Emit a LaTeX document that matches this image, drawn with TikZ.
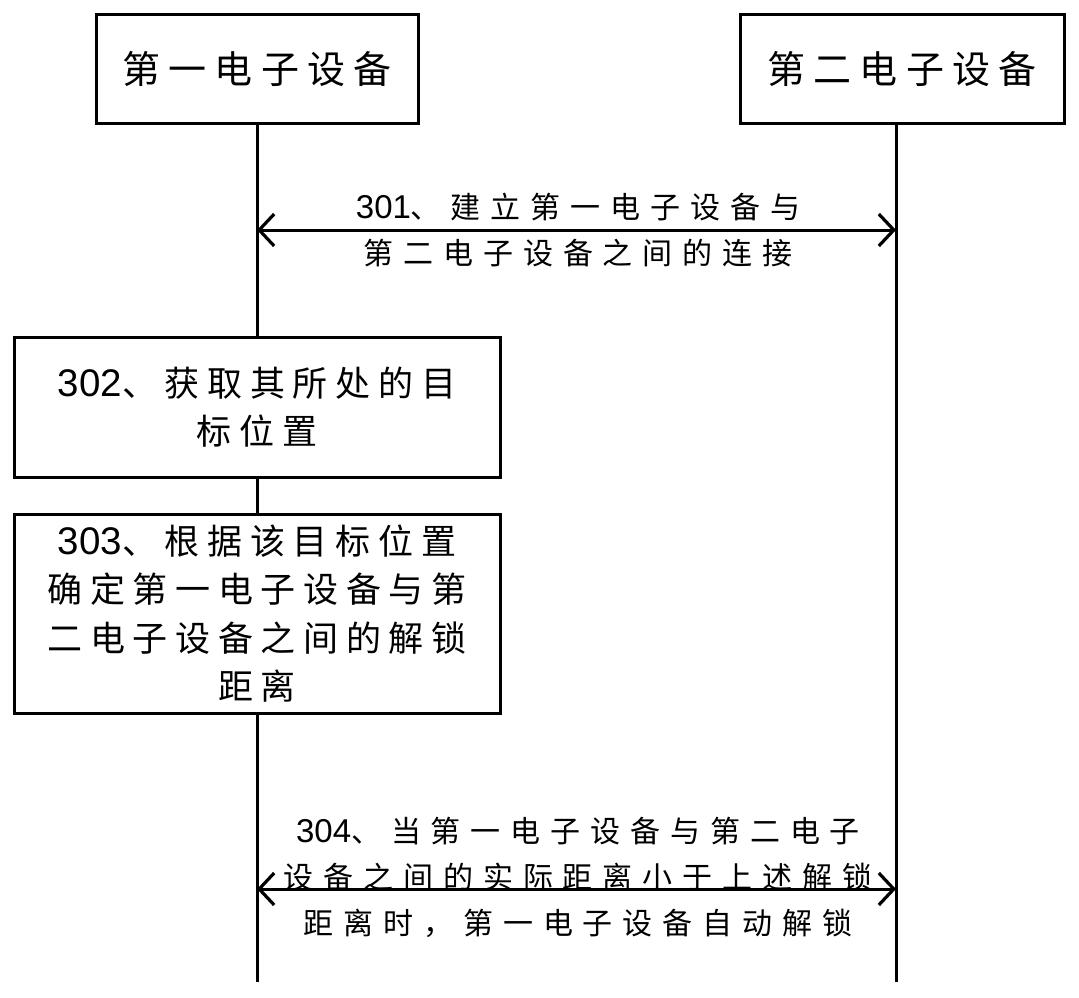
\documentclass[tikz,border=0pt]{standalone}
\usepackage{fontspec}
\usetikzlibrary{arrows.meta}
\setmainfont{Liberation Sans}
\newfontfamily\cjk{Noto Sans CJK SC}
\newfontfamily\dgf[Scale=1.1]{Liberation Sans}
\newcommand\dg[1]{{\dgf #1}}
\tikzset{
  box/.style={draw, line width=3pt, inner sep=0pt, align=center},
  life/.style={line width=3pt},
  barb/.tip={Straight Barb[length=15pt,width=32pt,line width=3.2pt]},
  msg/.style={line width=3pt, barb-barb},
  ttl/.style={font=\fontsize{38}{46}\selectfont\cjk\addfontfeature{LetterSpace=22}},
  stp/.style={align=center, font=\fontsize{35}{48.5}\selectfont\cjk\addfontfeature{LetterSpace=22}},
  lbl/.style={align=center, inner sep=0pt, font=\fontsize{30}{46}\selectfont\cjk\addfontfeature{LetterSpace=33}}
}
\begin{document}
\begin{tikzpicture}[x=1pt,y=-1pt]
\useasboundingbox (0,0) rectangle (1079,998);
% devices
\node[box, ttl, minimum width=322, minimum height=108] (d1) at (257,69) {第一电子设备};
\node[box, ttl, minimum width=324, minimum height=108] (d2) at (902,69) {第二电子设备};
% steps
\node[box, stp, minimum width=486, minimum height=140] (s302) at (257,407) {\dg{302}、获取其所处的目\\标位置};
\node[box, stp, minimum width=486, minimum height=199] (s303) at (257,613.5) {\dg{303}、根据该目标位置\\确定第一电子设备与第\\二电子设备之间的解锁\\距离};
% lifeline ends and message ends
\coordinate (e1) at (257,982);
\coordinate (e2) at (896,982);
\coordinate (m1l) at (257,230);
\coordinate (m1r) at (896,230);
\coordinate (m4l) at (257,889);
\coordinate (m4r) at (896,889);
% lifelines
\draw[life] (d1.south) -- (s302.north);
\draw[life] (s302.south) -- (s303.north);
\draw[life] (s303.south) -- (e1);
\draw[life] (d2.south -| e2) -- (e2);
% messages
\draw[msg] (m1l) -- (m1r);
\draw[msg] (m4l) -- (m4r);
\node[lbl] (l301) at (578,230) {\dg{301}、建立第一电子设备与\\第二电子设备之间的连接};
\node[lbl] (l304) at (578,877) {\dg{304}、当第一电子设备与第二电子\\设备之间的实际距离小于上述解锁\\距离时，第一电子设备自动解锁};
\end{tikzpicture}
\end{document}
